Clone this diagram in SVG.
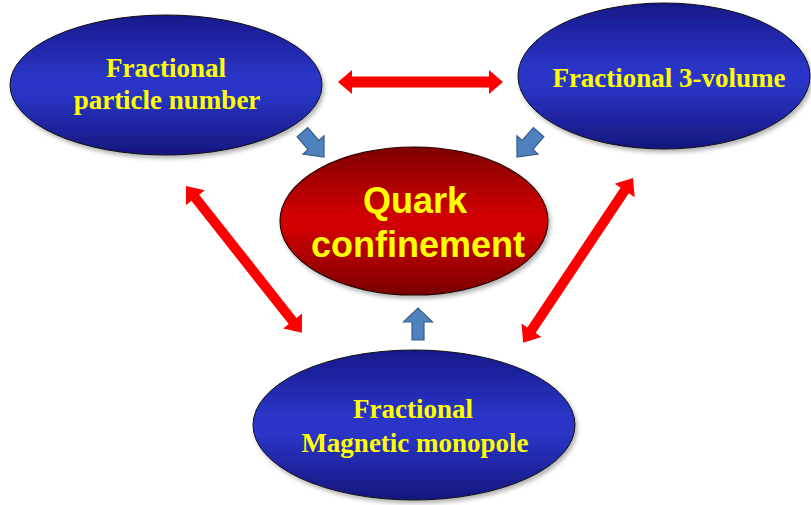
<svg xmlns="http://www.w3.org/2000/svg" width="811" height="505" viewBox="0 0 811 505">
<defs>
<linearGradient id="gBlue" x1="0" y1="0" x2="0" y2="1">
<stop offset="0" stop-color="#18188a"/>
<stop offset="0.45" stop-color="#2a36c8"/>
<stop offset="0.55" stop-color="#2a36c8"/>
<stop offset="1" stop-color="#16167e"/>
</linearGradient>
<linearGradient id="gRed" x1="0" y1="0" x2="0" y2="1">
<stop offset="0" stop-color="#7e0000"/>
<stop offset="0.45" stop-color="#d00404"/>
<stop offset="0.55" stop-color="#d00404"/>
<stop offset="1" stop-color="#7a0000"/>
</linearGradient>
<filter id="sh" x="-10%" y="-10%" width="125%" height="130%">
<feDropShadow dx="2" dy="3" stdDeviation="2" flood-color="#000" flood-opacity="0.3"/>
</filter>
</defs>
<style>
.blue{fill:url(#gBlue);stroke:#111;stroke-width:1;filter:url(#sh)}
.red{fill:url(#gRed);stroke:#2a0000;stroke-width:1.2;filter:url(#sh)}
.tb{font-family:"Liberation Serif","Times New Roman",serif;font-weight:bold;font-size:27px;fill:#ffff00;text-anchor:middle}
.ta{font-family:"Liberation Sans",Arial,sans-serif;font-weight:bold;font-size:36px;fill:#ffff00;text-anchor:middle}
.dbl{fill:#ff0000}
.blk{fill:#4f81bd;stroke:#385d8a;stroke-width:1.2}
</style>
<g id="connectors">
<polygon class="dbl" transform="translate(338,82)" points="0,0 14,-12 14,-5.5 151,-5.5 151,-12 165,0 151,12 151,5.5 14,5.5 14,12"/>
<polygon class="dbl" transform="translate(186,186) rotate(51.7)" points="0,0 15,-12 15,-5 172,-5 172,-12 187,0 172,12 172,5 15,5 15,12"/>
<polygon class="dbl" transform="translate(633,178) rotate(123.7)" points="0,0 15,-12 15,-5 183,-5 183,-12 198,0 183,12 183,5 15,5 15,12"/>
<polygon class="blk" transform="translate(324,157) rotate(49)" points="-33,-7 -16,-7 -16,-14 0,0 -16,14 -16,7 -33,7"/>
<polygon class="blk" transform="translate(517,157) rotate(131)" points="-33,-7 -16,-7 -16,-14 0,0 -16,14 -16,7 -33,7"/>
<polygon class="blk" transform="translate(418,308) rotate(-90)" points="-32,-6 -14,-6 -14,-14.5 0,0 -14,14.5 -14,6 -32,6"/>
</g>
<g id="particle">
<ellipse class="blue" cx="166" cy="85" rx="156" ry="70"/>
<text class="tb" x="166" y="77">Fractional</text>
<text class="tb" x="167" y="109">particle number</text>
</g>
<g id="volume">
<ellipse class="blue" cx="664" cy="76" rx="146" ry="73"/>
<text class="tb" x="669" y="87">Fractional 3-volume</text>
</g>
<g id="quark">
<ellipse class="red" cx="414" cy="221" rx="134" ry="74"/>
<text class="ta" x="415" y="213">Quark</text>
<text class="ta" x="418" y="257">confinement</text>
</g>
<g id="monopole">
<ellipse class="blue" cx="414" cy="425" rx="161" ry="75"/>
<text class="tb" x="413" y="418">Fractional</text>
<text class="tb" x="415" y="452">Magnetic monopole</text>
</g>
</svg>
